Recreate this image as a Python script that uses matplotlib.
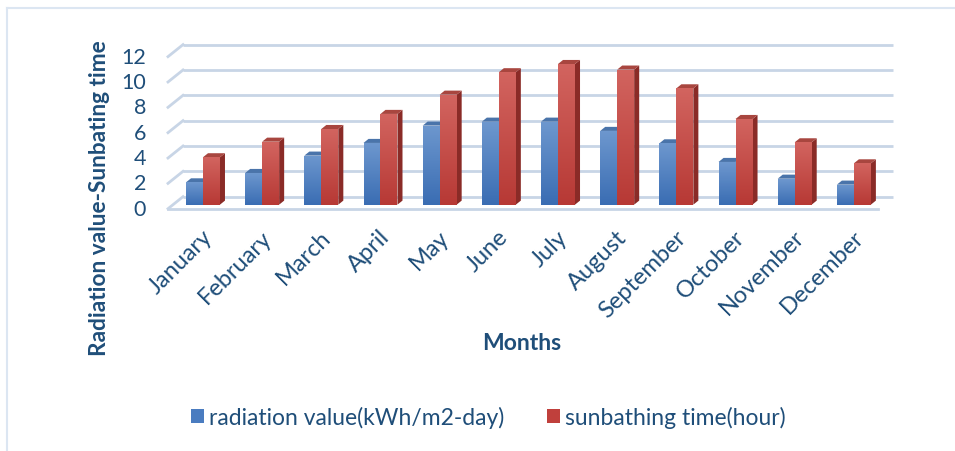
import numpy as np
import matplotlib
matplotlib.use("Agg")
import matplotlib.pyplot as plt
from matplotlib.patches import Polygon, Patch

months = ['January', 'February', 'March', 'April', 'May', 'June', 'July',
          'August', 'September', 'October', 'November', 'December']
radiation = [1.76, 2.5, 3.87, 4.87, 6.24, 6.55, 6.55, 5.82, 4.84, 3.37, 2.05, 1.58]
sunbathing = [3.74, 4.97, 5.97, 7.16, 8.68, 10.45, 11.1, 10.66, 9.18, 6.76, 4.92, 3.26]
yticks = [0, 2, 4, 6, 8, 10, 12]

plt.rcParams['font.family'] = ['Lato', 'DejaVu Sans']
txt = '#1F4E79'
grid_c = '#C8D5E6'

fig = plt.figure(figsize=(9.55, 4.52), dpi=100)
ax = fig.add_axes([0, 0, 1, 1])
ax.set_xlim(-2.839, 13.30)
ax.set_ylim(-20.07, 15.60)
ax.axis('off')

# chart border
fig.add_artist(plt.Line2D([7 / 955, 7 / 955], [0, 1 - 9 / 452], color='#DCE6F2', lw=1.5))
fig.add_artist(plt.Line2D([7 / 955, 1], [1 - 9 / 452, 1 - 9 / 452], color='#DCE6F2', lw=1.5))

# depth of the 3d box
ddx, ddy = 0.254, 0.95
n = len(months)

# back wall gridlines + side wall stubs
for v in yticks:
    ax.plot([ddx, n + ddx], [v, v], color=grid_c, lw=2, zorder=1, solid_capstyle='butt')
    ax.plot([0, ddx], [v - ddy, v], color=grid_c, lw=2, zorder=1)
    ax.text(-0.37, v - ddy, str(v), ha='right', va='center', fontsize=15.5, color=txt)
# floor front edge
ax.plot([0, n], [-ddy, -ddy], color=grid_c, lw=2, zorder=1)

# bars
bw = 0.287
base = -0.63
sx, sy = 0.085, 0.32
x = np.arange(n)
series = [
    (radiation, x + 0.304, ('#6D97CE', '#3A6DB3'), '#4A74AA', '#2E5B95'),
    (sunbathing, x + 0.304 + bw, ('#D2645F', '#B73935'), '#A8463F', '#8A2B27'),
]
grad = np.linspace(0, 1, 64).reshape(-1, 1)
for i in range(n):
    for vals, xs, (c_top, c_bot), c_lid, c_side in series:
        x0, h = xs[i], vals[i]
        top = base + h
        # side and lid
        ax.add_patch(Polygon([(x0 + bw, base), (x0 + bw + sx, base + sy),
                              (x0 + bw + sx, top + sy), (x0 + bw, top)],
                             closed=True, fc=c_side, ec='none', zorder=3))
        ax.add_patch(Polygon([(x0, top), (x0 + sx, top + sy),
                              (x0 + bw + sx, top + sy), (x0 + bw, top)],
                             closed=True, fc=c_lid, ec='none', zorder=3))
        bar = ax.bar(x0, h, bottom=base, width=bw, align='edge',
                     color=c_bot, ec='none', zorder=3)[0]
        cmap = matplotlib.colors.LinearSegmentedColormap.from_list('g', [c_top, c_bot])
        im = ax.imshow(grad, cmap=cmap, aspect='auto', zorder=3.5,
                       extent=[x0, x0 + bw, base, top])
        im.set_clip_path(bar)

# restore limits after imshow
ax.set_xlim(-2.839, 13.30)
ax.set_ylim(-20.07, 15.60)

for i, m in enumerate(months):
    ax.text(i + 0.57, -2.3, m, rotation=45, rotation_mode='anchor',
            ha='right', va='top', fontsize=17, color=txt)

fig.text(100 / 955, 1 - 198 / 452, 'Radiation value-Sunbating time', rotation=90,
         ha='center', va='center', fontsize=16.3, fontweight='bold', color=txt)
fig.text(522 / 955, 1 - 344 / 452, 'Months', ha='center', va='center',
         fontsize=16.5, fontweight='bold', color=txt)

handles = [Patch(fc='#4A7CC0', ec='none'), Patch(fc='#C0403C', ec='none')]
fig.legend(handles, ['radiation value(kWh/m2-day)', 'sunbathing time(hour)'],
           loc='center', bbox_to_anchor=(488 / 955, 1 - 418 / 452), ncol=2,
           frameon=False, fontsize=16.5, handlelength=0.6, handleheight=0.6,
           handletextpad=0.2, columnspacing=1.85, labelcolor=txt)

fig.savefig('out.png', dpi=100)
